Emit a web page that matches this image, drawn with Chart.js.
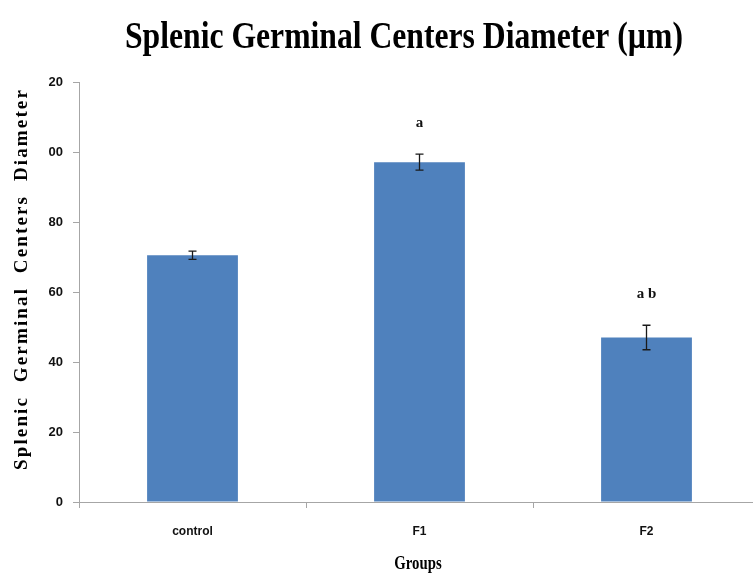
<!DOCTYPE html>
<html>
<head>
<meta charset="utf-8">
<script src="https://cdn.jsdelivr.net/npm/chart.js"></script>
<style>
  html, body { margin: 0; padding: 0; background: #fff; overflow: hidden; width: 753px; height: 576px; }
  canvas { display: block; }
</style>
</head>
<body>
<canvas id="chart" width="770" height="576"></canvas>
<script>
const groups = ['control', 'F1', 'F2'];
const diameters = [70.5, 97.1, 47.0];
const errors = [1.2, 2.3, 3.5];
const sigLetters = ['', 'a', 'a b'];
const yTickLabels = ['0', '20', '40', '60', '80', '00', '20']; // leading digit cropped in the original

const chartTitle = 'Splenic Germinal Centers Diameter (\u00b5m)';
const yTitle = 'Splenic Germinal Centers Diameter';
const xTitle = 'Groups';

// draws error bars, letters and the squeezed serif titles
const extras = {
  id: 'extras',
  afterDatasetsDraw(chart) {
    const ctx = chart.ctx;
    const x = chart.scales.x, y = chart.scales.y;
    ctx.save();
    ctx.strokeStyle = '#1a1a1a';
    ctx.lineWidth = 1.3;
    diameters.forEach((v, i) => {
      const px = x.getPixelForValue(i);
      const top = y.getPixelForValue(v + errors[i]);
      const bot = y.getPixelForValue(v - errors[i]);
      ctx.beginPath();
      ctx.moveTo(px, top); ctx.lineTo(px, bot);
      ctx.moveTo(px - 4, top); ctx.lineTo(px + 4, top);
      ctx.moveTo(px - 4, bot); ctx.lineTo(px + 4, bot);
      ctx.stroke();
      if (sigLetters[i]) {
        ctx.fillStyle = '#111';
        ctx.font = 'bold 15px "Liberation Serif"';
        ctx.textAlign = 'center';
        ctx.textBaseline = 'middle';
        ctx.fillText(sigLetters[i], px, top - 31);
      }
    });
    ctx.restore();
  },
  afterDraw(chart) {
    const ctx = chart.ctx;
    ctx.save();
    ctx.fillStyle = '#000';
    ctx.textAlign = 'center';
    ctx.textBaseline = 'middle';

    // main title, horizontally condensed
    ctx.font = 'bold 38px "Liberation Serif"';
    let w = ctx.measureText(chartTitle).width;
    ctx.save();
    ctx.translate(404, 38);
    ctx.scale(558 / w, 1);
    ctx.fillText(chartTitle, 0, 0);
    ctx.restore();

    // x axis title
    ctx.font = 'bold 18px "Liberation Serif"';
    ctx.save();
    ctx.translate(418, 564);
    ctx.scale(0.82, 1);
    ctx.fillText(xTitle, 0, 0);
    ctx.restore();

    // y axis title, spaced letters
    ctx.font = 'bold 18px "Liberation Serif"';
    ctx.letterSpacing = '2px';
    ctx.save();
    ctx.translate(22, 279);
    ctx.rotate(-Math.PI / 2);
    const t = yTitle.replace(/ /g, '  ');
    const tw = ctx.measureText(t).width;
    ctx.scale(382 / tw, 1);
    ctx.fillText(t, 0, 0);
    ctx.restore();
    ctx.restore();
  }
};

new Chart(document.getElementById('chart'), {
  type: 'bar',
  data: {
    labels: groups,
    datasets: [{
      data: diameters,
      backgroundColor: '#4f81bd',
      borderColor: '#4f81bd',
      borderWidth: 0,
      barPercentage: 0.4,
      categoryPercentage: 1
    }]
  },
  options: {
    responsive: false,
    animation: false,
    layout: { padding: { top: 82, right: 10, left: 0, bottom: 0 } },
    plugins: { legend: { display: false }, tooltip: { enabled: false } },
    scales: {
      x: {
        afterFit: s => { s.height = 74; },
        grid: { display: true, drawOnChartArea: false, offset: true, tickLength: 6, color: '#a6a6a6' },
        border: { color: '#a6a6a6', width: 1 },
        ticks: { color: '#111', padding: 16, font: { family: '"Liberation Sans"', weight: 'bold', size: 12 } }
      },
      y: {
        min: 0, max: 120,
        afterFit: s => { s.width = 79; },
        grid: { display: true, drawOnChartArea: false, tickLength: 6, color: '#a6a6a6' },
        border: { color: '#a6a6a6', width: 1 },
        ticks: {
          stepSize: 20,
          color: '#111',
          padding: 10,
          font: { family: '"Liberation Sans"', weight: 'bold', size: 13 },
          callback: (v, i) => yTickLabels[i]
        }
      }
    }
  },
  plugins: [extras]
});
</script>
</body>
</html>
